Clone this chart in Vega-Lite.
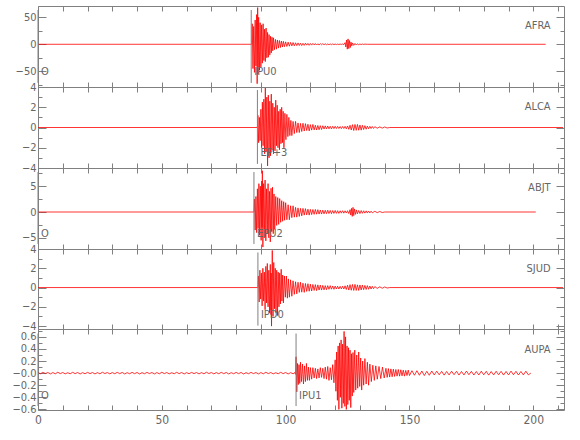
{
"$schema":"https://vega.github.io/schema/vega-lite/v6.json",
"autosize":{"type":"pad"},
"padding":{"left":11,"top":5,"right":0,"bottom":0},
"spacing":0,
"bounds":"flush",
"config":{
 "view":{"stroke":"#808080","strokeWidth":1},
 "axis":{"domain":false,"grid":false,"tickColor":"#808080","tickWidth":1,"labelColor":"#666666","labelFont":"Liberation Sans Narrow, DejaVu Sans Condensed, sans-serif","labelFontSize":11,"labelPadding":10,"labelOverlap":false,"labelBound":false,"labelFlush":false,"title":null},
 "text":{"font":"Liberation Sans Narrow, DejaVu Sans Condensed, sans-serif","fontSize":11,"color":"#666666","baseline":"middle"}
},
"datasets":{
"AFRA":[{"t":0,"v":0},{"t":86.2,"v":0},
{"t":86.3,"v":0},{"t":86.5,"v":38},{"t":86.8,"v":-45},{"t":87.1,"v":33},{"t":87.4,"v":-52},{"t":87.7,"v":45},{"t":88.0,"v":-40},{"t":88.3,"v":55},{"t":88.5,"v":-73},{"t":88.7,"v":68},{"t":88.9,"v":-55},{"t":89.1,"v":50},{"t":89.4,"v":-48},{"t":89.7,"v":40},{"t":90.0,"v":-42},{"t":90.3,"v":36},{"t":90.6,"v":-35},{"t":90.9,"v":38},{"t":91.2,"v":-30},{"t":91.5,"v":28},{"t":91.8,"v":-32},{"t":92.1,"v":30},{"t":92.4,"v":-25},{"t":92.7,"v":22},{"t":93.0,"v":-24},{"t":93.3,"v":18},{"t":93.6,"v":-20},{"t":93.9,"v":15},{"t":94.2,"v":-16},{"t":94.5,"v":13},{"t":94.8,"v":-12},{"t":95.1,"v":12},{"t":95.5,"v":-10},{"t":95.9,"v":9},{"t":96.3,"v":-9},{"t":96.7,"v":8},{"t":97.1,"v":-7},{"t":97.5,"v":7},{"t":97.9,"v":-6},{"t":98.3,"v":6},{"t":98.7,"v":-5},{"t":99.1,"v":5.5},{"t":99.5,"v":-4.5},{"t":100,"v":4.5},{"t":100.5,"v":-4},{"t":101,"v":4},{"t":101.5,"v":-3.5},{"t":102,"v":3.5},{"t":102.5,"v":-3},{"t":103,"v":3.2},{"t":103.5,"v":-2.8},{"t":104,"v":2.8},{"t":104.5,"v":-2.5},
{"t":105,"v":2.5},{"t":105.5,"v":-2.3},{"t":106,"v":2.0},{"t":106.5,"v":-2.4},{"t":107,"v":1.8},{"t":107.5,"v":-2.0},{"t":108,"v":2.1},{"t":108.5,"v":-1.6},{"t":109,"v":1.7},{"t":109.5,"v":-1.9},{"t":110,"v":1.4},{"t":110.5,"v":-1.5},{"t":111,"v":1.6},{"t":111.5,"v":-1.2},{"t":112,"v":1.3},{"t":112.5,"v":-1.4},{"t":113,"v":1.0},{"t":113.5,"v":-1.2},{"t":114,"v":1.1},{"t":114.5,"v":-0.9},{"t":115,"v":1.0},{"t":115.5,"v":-0.8},{"t":116,"v":0.9},{"t":116.5,"v":-0.8},{"t":117,"v":0.7},{"t":117.5,"v":-0.8},{"t":118,"v":0.6},{"t":118.5,"v":-0.7},{"t":119,"v":0.6},{"t":119.5,"v":-0.6},{"t":120,"v":0.5},{"t":120.5,"v":-0.6},{"t":121,"v":0.5},{"t":121.5,"v":-0.5},{"t":122,"v":0.5},{"t":122.5,"v":-0.4},{"t":123,"v":0.5},{"t":123.5,"v":-0.6},
{"t":124,"v":3},{"t":124.3,"v":-5},{"t":124.6,"v":8},{"t":124.9,"v":-9},{"t":125.2,"v":10},{"t":125.5,"v":-8},{"t":125.8,"v":7},{"t":126.1,"v":-6},{"t":126.4,"v":4},{"t":126.7,"v":-3},{"t":127,"v":2.5},{"t":127.5,"v":-2},{"t":128,"v":1.5},{"t":128.5,"v":-1.3},{"t":129,"v":1.0},{"t":129.5,"v":-0.9},{"t":130,"v":0.7},{"t":130.5,"v":-0.6},{"t":131,"v":0.5},{"t":131.5,"v":-0.4},{"t":132,"v":0.3},{"t":133,"v":0},{"t":205,"v":0}],
"ALCA":[{"t":0,"v":0},{"t":88.5,"v":0},
{"t":88.6,"v":0},{"t":88.8,"v":1.2},{"t":89.1,"v":-1.5},{"t":89.4,"v":1.0},{"t":89.7,"v":-1.3},{"t":90.0,"v":1.8},{"t":90.3,"v":-2.0},{"t":90.6,"v":2.5},{"t":90.9,"v":-1.8},{"t":91.2,"v":2.8},{"t":91.5,"v":-2.6},{"t":91.8,"v":3.9},{"t":92.1,"v":-2.4},{"t":92.4,"v":3.0},{"t":92.7,"v":-3.8},{"t":93.0,"v":3.2},{"t":93.3,"v":-3.0},{"t":93.6,"v":2.6},{"t":93.9,"v":-2.8},{"t":94.2,"v":3.3},{"t":94.5,"v":-2.2},{"t":94.8,"v":2.4},{"t":95.1,"v":-2.6},{"t":95.4,"v":2.0},{"t":95.7,"v":-2.3},{"t":96.0,"v":2.7},{"t":96.3,"v":-1.8},{"t":96.6,"v":2.2},{"t":96.9,"v":-2.0},{"t":97.2,"v":1.6},{"t":97.5,"v":-2.2},{"t":97.8,"v":1.8},{"t":98.1,"v":-1.6},{"t":98.4,"v":2.0},{"t":98.7,"v":-1.5},{"t":99.0,"v":1.6},{"t":99.3,"v":-2.0},{"t":99.7,"v":1.4},{"t":100.1,"v":-1.2},{"t":100.5,"v":1.3},{"t":100.9,"v":-0.9},{"t":101.3,"v":1.0},{"t":101.7,"v":-0.8},{"t":102.1,"v":0.7},{"t":102.5,"v":-0.8},
{"t":103.0,"v":0.6},{"t":103.5,"v":-0.6},{"t":104.0,"v":0.6},{"t":104.5,"v":-0.5},{"t":105.0,"v":0.45},{"t":105.5,"v":-0.5},{"t":106.0,"v":0.4},{"t":106.5,"v":-0.4},{"t":107.0,"v":0.42},{"t":107.5,"v":-0.35},{"t":108.0,"v":0.38},{"t":108.5,"v":-0.3},{"t":109.0,"v":0.32},{"t":109.5,"v":-0.34},{"t":110.0,"v":0.28},{"t":110.5,"v":-0.26},{"t":111.0,"v":0.3},{"t":111.5,"v":-0.24},{"t":112.0,"v":0.22},{"t":112.5,"v":-0.25},{"t":113.0,"v":0.2},{"t":113.5,"v":-0.22},{"t":114.0,"v":0.18},{"t":114.5,"v":-0.2},{"t":115.0,"v":0.17},{"t":115.5,"v":-0.15},{"t":116.0,"v":0.16},{"t":116.5,"v":-0.14},{"t":117.0,"v":0.15},{"t":117.5,"v":-0.13},{"t":118.0,"v":0.12},{"t":118.5,"v":-0.14},{"t":119.0,"v":0.12},{"t":119.5,"v":-0.11},{"t":120.0,"v":0.12},{"t":120.5,"v":-0.1},{"t":121.0,"v":0.11},{"t":121.5,"v":-0.1},{"t":122.0,"v":0.1},{"t":122.5,"v":-0.11},{"t":123.0,"v":0.1},{"t":123.5,"v":-0.1},{"t":124.0,"v":0.12},{"t":124.5,"v":-0.13},{"t":125.0,"v":0.15},{"t":125.5,"v":-0.18},{"t":126.0,"v":0.22},{"t":126.5,"v":-0.25},{"t":127.0,"v":0.28},{"t":127.5,"v":-0.3},{"t":128.0,"v":0.3},{"t":128.5,"v":-0.28},{"t":129.0,"v":0.3},{"t":129.5,"v":-0.27},{"t":130.0,"v":0.25},{"t":130.5,"v":-0.26},{"t":131.0,"v":0.22},{"t":131.5,"v":-0.2},{"t":132.0,"v":0.18},{"t":132.5,"v":-0.17},{"t":133.0,"v":0.14},{"t":133.5,"v":-0.13},{"t":134.0,"v":0.12},{"t":134.5,"v":-0.1},{"t":135,"v":0.1},{"t":135.5,"v":-0.09},{"t":136,"v":0.08},{"t":137,"v":-0.07},{"t":138,"v":0.06},{"t":139,"v":-0.06},{"t":140,"v":0.05},{"t":141,"v":-0.05},{"t":142,"v":0},{"t":212,"v":0}],
"ABJT":[{"t":0,"v":0},{"t":87.1,"v":0},
{"t":87.2,"v":0},{"t":87.4,"v":2.5},{"t":87.7,"v":-3.5},{"t":88.0,"v":3.0},{"t":88.3,"v":-4.0},{"t":88.6,"v":4.5},{"t":88.9,"v":-3.2},{"t":89.2,"v":5.5},{"t":89.5,"v":-4.5},{"t":89.8,"v":5.0},{"t":90.1,"v":-5.5},{"t":90.35,"v":6.0},{"t":90.45,"v":-3.0},{"t":90.6,"v":8.0},{"t":90.8,"v":-6.8},{"t":91.1,"v":5.5},{"t":91.4,"v":-5.0},{"t":91.7,"v":6.2},{"t":92.0,"v":-5.6},{"t":92.3,"v":4.5},{"t":92.6,"v":-4.2},{"t":92.9,"v":5.5},{"t":93.2,"v":-5.0},{"t":93.5,"v":4.0},{"t":93.8,"v":-5.8},{"t":94.1,"v":4.6},{"t":94.4,"v":-3.8},{"t":94.7,"v":4.8},{"t":95.0,"v":-4.2},{"t":95.3,"v":3.5},{"t":95.6,"v":-3.4},{"t":96.0,"v":3.0},{"t":96.4,"v":-2.6},{"t":96.8,"v":2.8},{"t":97.2,"v":-2.4},{"t":97.6,"v":2.6},{"t":98.0,"v":-2.0},{"t":98.4,"v":2.2},{"t":98.8,"v":-1.8},{"t":99.2,"v":2.0},{"t":99.6,"v":-1.6},{"t":100.0,"v":1.8},{"t":100.5,"v":-1.5},{"t":101.0,"v":1.4},{"t":101.5,"v":-1.5},{"t":102.0,"v":1.2},{"t":102.5,"v":-1.1},{"t":103.0,"v":1.2},{"t":103.5,"v":-1.0},
{"t":104.0,"v":0.9},{"t":104.5,"v":-1.0},{"t":105.0,"v":0.8},{"t":105.5,"v":-0.85},{"t":106.0,"v":0.7},{"t":106.5,"v":-0.75},{"t":107.0,"v":0.7},{"t":107.5,"v":-0.6},{"t":108.0,"v":0.65},{"t":108.5,"v":-0.55},{"t":109.0,"v":0.55},{"t":109.5,"v":-0.6},{"t":110.0,"v":0.5},{"t":110.5,"v":-0.5},{"t":111.0,"v":0.48},{"t":111.5,"v":-0.45},{"t":112.0,"v":0.5},{"t":112.5,"v":-0.42},{"t":113.0,"v":0.45},{"t":113.5,"v":-0.4},{"t":114.0,"v":0.38},{"t":114.5,"v":-0.4},{"t":115.0,"v":0.36},{"t":115.5,"v":-0.35},{"t":116.0,"v":0.34},{"t":116.5,"v":-0.32},{"t":117.0,"v":0.35},{"t":117.5,"v":-0.3},{"t":118.0,"v":0.3},{"t":118.5,"v":-0.32},{"t":119.0,"v":0.28},{"t":119.5,"v":-0.27},{"t":120.0,"v":0.3},{"t":120.5,"v":-0.26},{"t":121.0,"v":0.25},{"t":121.5,"v":-0.27},{"t":122.0,"v":0.24},{"t":122.5,"v":-0.22},{"t":123.0,"v":0.25},{"t":123.5,"v":-0.22},{"t":124.0,"v":0.23},{"t":124.5,"v":-0.2},{"t":125.0,"v":0.25},{"t":125.5,"v":-0.3},{"t":126.0,"v":0.45},{"t":126.3,"v":-0.6},{"t":126.6,"v":0.7},{"t":126.9,"v":-0.85},{"t":127.2,"v":0.9},{"t":127.5,"v":-0.7},{"t":127.8,"v":0.6},{"t":128.2,"v":-0.45},{"t":128.6,"v":0.4},{"t":129.0,"v":-0.35},{"t":129.5,"v":0.3},{"t":130.0,"v":-0.3},{"t":130.5,"v":0.28},{"t":131.0,"v":-0.25},{"t":131.5,"v":0.24},{"t":132.0,"v":-0.22},{"t":132.5,"v":0.22},{"t":133.0,"v":-0.2},{"t":133.5,"v":0.18},{"t":134.0,"v":-0.18},{"t":134.5,"v":0.16},{"t":135.0,"v":-0.15},{"t":136,"v":0.13},{"t":137,"v":-0.12},{"t":138,"v":0.1},{"t":139,"v":-0.1},{"t":140,"v":0},{"t":201,"v":0}],
"SJUD":[{"t":0,"v":0},{"t":88.7,"v":0},
{"t":88.8,"v":0},{"t":89.0,"v":1.2},{"t":89.3,"v":-1.5},{"t":89.6,"v":1.8},{"t":89.9,"v":-1.2},{"t":90.2,"v":1.5},{"t":90.5,"v":-1.9},{"t":90.8,"v":2.0},{"t":91.1,"v":-1.4},{"t":91.4,"v":1.6},{"t":91.7,"v":-2.3},{"t":92.0,"v":2.2},{"t":92.3,"v":-1.6},{"t":92.6,"v":2.5},{"t":92.9,"v":-2.0},{"t":93.2,"v":1.8},{"t":93.5,"v":-2.6},{"t":93.8,"v":2.4},{"t":94.0,"v":-2.8},{"t":94.15,"v":1.5},{"t":94.3,"v":-4.0},{"t":94.6,"v":3.85},{"t":94.9,"v":-3.0},{"t":95.2,"v":2.6},{"t":95.5,"v":-2.2},{"t":95.8,"v":2.0},{"t":96.1,"v":-2.6},{"t":96.4,"v":1.8},{"t":96.7,"v":-2.9},{"t":97.0,"v":1.6},{"t":97.3,"v":-2.0},{"t":97.6,"v":1.5},{"t":97.9,"v":-1.7},{"t":98.2,"v":1.9},{"t":98.5,"v":-1.4},{"t":98.8,"v":1.3},{"t":99.1,"v":-1.6},{"t":99.5,"v":1.2},{"t":99.9,"v":-1.0},{"t":100.3,"v":1.2},{"t":100.7,"v":-1.1},{"t":101.1,"v":0.9},{"t":101.5,"v":-1.0},{"t":102,"v":0.8},{"t":102.5,"v":-0.9},{"t":103,"v":0.7},{"t":103.5,"v":-0.7},
{"t":104,"v":0.6},{"t":104.5,"v":-0.65},{"t":105,"v":0.55},{"t":105.5,"v":-0.5},{"t":106,"v":0.55},{"t":106.5,"v":-0.48},{"t":107,"v":0.45},{"t":107.5,"v":-0.5},{"t":108,"v":0.42},{"t":108.5,"v":-0.4},{"t":109,"v":0.4},{"t":109.5,"v":-0.38},{"t":110,"v":0.35},{"t":110.5,"v":-0.36},{"t":111,"v":0.32},{"t":111.5,"v":-0.3},{"t":112,"v":0.3},{"t":112.5,"v":-0.32},{"t":113,"v":0.28},{"t":113.5,"v":-0.26},{"t":114,"v":0.25},{"t":114.5,"v":-0.26},{"t":115,"v":0.22},{"t":115.5,"v":-0.24},{"t":116,"v":0.2},{"t":116.5,"v":-0.22},{"t":117,"v":0.2},{"t":117.5,"v":-0.18},{"t":118,"v":0.2},{"t":118.5,"v":-0.17},{"t":119,"v":0.16},{"t":119.5,"v":-0.18},{"t":120,"v":0.15},{"t":120.5,"v":-0.15},{"t":121,"v":0.14},{"t":121.5,"v":-0.15},{"t":122,"v":0.13},{"t":122.5,"v":-0.14},{"t":123,"v":0.14},{"t":123.5,"v":-0.15},{"t":124,"v":0.18},{"t":124.5,"v":-0.2},{"t":125,"v":0.24},{"t":125.5,"v":-0.26},{"t":126,"v":0.3},{"t":126.5,"v":-0.28},{"t":127,"v":0.32},{"t":127.5,"v":-0.3},{"t":128,"v":0.33},{"t":128.5,"v":-0.3},{"t":129,"v":0.28},{"t":129.5,"v":-0.3},{"t":130,"v":0.27},{"t":130.5,"v":-0.25},{"t":131,"v":0.26},{"t":131.5,"v":-0.22},{"t":132,"v":0.22},{"t":132.5,"v":-0.2},{"t":133,"v":0.2},{"t":133.5,"v":-0.18},{"t":134,"v":0.16},{"t":134.5,"v":-0.15},{"t":135,"v":0.13},{"t":135.5,"v":-0.12},{"t":136,"v":0.1},{"t":137,"v":-0.09},{"t":138,"v":0.08},{"t":139,"v":-0.07},{"t":140,"v":0.06},{"t":141,"v":-0.05},{"t":142,"v":0},{"t":212,"v":0}],
"AUPA":[{"t":0,"v":0.008},{"t":1,"v":-0.01},{"t":2,"v":0.012},{"t":3,"v":-0.007},{"t":4,"v":0.01},{"t":5,"v":-0.013},{"t":6,"v":0.009},{"t":7,"v":-0.011},{"t":8,"v":0.014},{"t":9,"v":-0.008},{"t":10,"v":0.01},{"t":11,"v":-0.012},{"t":12,"v":0.007},{"t":13,"v":-0.01},{"t":14,"v":0.013},{"t":15,"v":-0.009},{"t":16,"v":0.011},{"t":17,"v":-0.014},{"t":18,"v":0.008},{"t":19,"v":-0.01},{"t":20,"v":0.012},{"t":21,"v":-0.008},{"t":22,"v":0.01},{"t":23,"v":-0.013},{"t":24,"v":0.009},{"t":25,"v":-0.011},{"t":26,"v":0.014},{"t":27,"v":-0.007},{"t":28,"v":0.01},{"t":29,"v":-0.012},{"t":30,"v":0.009},{"t":31,"v":-0.01},{"t":32,"v":0.013},{"t":33,"v":-0.009},{"t":34,"v":0.011},{"t":35,"v":-0.013},{"t":36,"v":0.008},{"t":37,"v":-0.01},{"t":38,"v":0.012},{"t":39,"v":-0.009},{"t":40,"v":0.011},{"t":41,"v":-0.014},{"t":42,"v":0.008},{"t":43,"v":-0.01},{"t":44,"v":0.012},{"t":45,"v":-0.008},{"t":46,"v":0.01},{"t":47,"v":-0.013},{"t":48,"v":0.009},{"t":49,"v":-0.011},{"t":50,"v":0.014},{"t":51,"v":-0.008},{"t":52,"v":0.01},{"t":53,"v":-0.012},{"t":54,"v":0.007},{"t":55,"v":-0.01},{"t":56,"v":0.013},{"t":57,"v":-0.009},{"t":58,"v":0.011},{"t":59,"v":-0.014},{"t":60,"v":0.008},{"t":61,"v":-0.01},{"t":62,"v":0.012},{"t":63,"v":-0.008},{"t":64,"v":0.01},{"t":65,"v":-0.013},{"t":66,"v":0.009},{"t":67,"v":-0.011},{"t":68,"v":0.014},{"t":69,"v":-0.007},{"t":70,"v":0.01},{"t":71,"v":-0.012},{"t":72,"v":0.009},{"t":73,"v":-0.01},{"t":74,"v":0.013},{"t":75,"v":-0.009},{"t":76,"v":0.011},{"t":77,"v":-0.013},{"t":78,"v":0.008},{"t":79,"v":-0.01},{"t":80,"v":0.012},{"t":81,"v":-0.009},{"t":82,"v":0.011},{"t":83,"v":-0.014},{"t":84,"v":0.008},{"t":85,"v":-0.01},{"t":86,"v":0.012},{"t":87,"v":-0.008},{"t":88,"v":0.01},{"t":89,"v":-0.013},{"t":90,"v":0.009},{"t":91,"v":-0.011},{"t":92,"v":0.014},{"t":93,"v":-0.008},{"t":94,"v":0.01},{"t":95,"v":-0.012},{"t":96,"v":0.007},{"t":97,"v":-0.01},{"t":98,"v":0.013},{"t":99,"v":-0.009},{"t":100,"v":0.011},{"t":101,"v":-0.014},{"t":102,"v":0.008},{"t":103,"v":-0.01},{"t":103.8,"v":0.01},
{"t":104.0,"v":-0.02},{"t":104.2,"v":0.27},{"t":104.5,"v":-0.31},{"t":104.8,"v":0.16},{"t":105.1,"v":-0.19},{"t":105.4,"v":0.14},{"t":105.7,"v":-0.17},{"t":106.0,"v":0.18},{"t":106.4,"v":-0.14},{"t":106.8,"v":0.15},{"t":107.2,"v":-0.18},{"t":107.6,"v":0.12},{"t":108.0,"v":-0.14},{"t":108.4,"v":0.16},{"t":108.8,"v":-0.12},{"t":109.2,"v":0.1},{"t":109.6,"v":-0.12},{"t":110.0,"v":0.09},{"t":110.5,"v":-0.1},{"t":111.0,"v":0.09},{"t":111.5,"v":-0.08},{"t":112.0,"v":0.08},{"t":112.5,"v":-0.09},{"t":113.0,"v":0.07},{"t":113.5,"v":-0.08},{"t":114.0,"v":0.09},{"t":114.5,"v":-0.07},{"t":115.0,"v":0.08},{"t":115.5,"v":-0.09},{"t":116.0,"v":0.1},{"t":116.5,"v":-0.1},{"t":117.0,"v":0.11},{"t":117.5,"v":-0.12},{"t":118.0,"v":0.09},{"t":118.5,"v":-0.11},{"t":119.0,"v":0.14},{"t":119.5,"v":-0.16},{"t":120.0,"v":0.22},{"t":120.3,"v":-0.3},{"t":120.6,"v":0.35},{"t":120.9,"v":-0.45},{"t":121.2,"v":0.45},{"t":121.5,"v":-0.6},{"t":121.8,"v":0.5},{"t":122.1,"v":-0.4},{"t":122.4,"v":0.55},{"t":122.7,"v":-0.58},{"t":123.0,"v":0.48},{"t":123.3,"v":-0.5},{"t":123.6,"v":0.69},{"t":123.9,"v":-0.55},{"t":124.2,"v":0.6},{"t":124.5,"v":-0.6},{"t":124.8,"v":0.45},{"t":125.1,"v":-0.52},{"t":125.4,"v":0.42},{"t":125.7,"v":-0.45},{"t":126.0,"v":0.38},{"t":126.3,"v":-0.57},{"t":126.6,"v":0.32},{"t":126.9,"v":-0.38},{"t":127.2,"v":0.34},{"t":127.5,"v":-0.32},{"t":127.9,"v":0.38},{"t":128.3,"v":-0.28},{"t":128.7,"v":0.3},{"t":129.1,"v":-0.25},{"t":129.5,"v":0.35},{"t":129.9,"v":-0.22},{"t":130.3,"v":0.25},{"t":130.7,"v":-0.28},{"t":131.1,"v":0.2},{"t":131.5,"v":-0.2},{"t":132.0,"v":0.24},{"t":132.5,"v":-0.18},{"t":133.0,"v":0.18},{"t":133.5,"v":-0.2},{"t":134.0,"v":0.15},{"t":134.6,"v":-0.14},{"t":135.2,"v":0.13},{"t":135.8,"v":-0.12},{"t":136.4,"v":0.12},{"t":137.0,"v":-0.1},{"t":137.7,"v":0.11},{"t":138.4,"v":-0.09},{"t":139.1,"v":0.1},{"t":139.8,"v":-0.08},
{"t":140.5,"v":0.08},{"t":141,"v":-0.07},{"t":141.5,"v":0.075},{"t":142,"v":-0.065},{"t":142.5,"v":0.07},{"t":143,"v":-0.06},{"t":143.5,"v":0.065},{"t":144,"v":-0.055},{"t":144.5,"v":0.06},{"t":145,"v":-0.05},{"t":145.5,"v":0.06},{"t":146,"v":-0.05},{"t":146.5,"v":0.055},{"t":147,"v":-0.045},{"t":147.5,"v":0.05},{"t":148,"v":-0.05},{"t":148.5,"v":0.045},{"t":149,"v":-0.04},{"t":149.5,"v":0.05},{"t":150,"v":-0.04},
{"t":151,"v":0.04},{"t":152,"v":-0.035},{"t":153,"v":0.04},{"t":154,"v":-0.035},{"t":155,"v":0.035},{"t":156,"v":-0.04},{"t":157,"v":0.03},{"t":158,"v":-0.035},{"t":159,"v":0.035},{"t":160,"v":-0.03},{"t":161,"v":0.032},{"t":162,"v":-0.028},{"t":163,"v":0.03},{"t":164,"v":-0.033},{"t":165,"v":0.027},{"t":166,"v":-0.03},{"t":167,"v":0.032},{"t":168,"v":-0.026},{"t":169,"v":0.03},{"t":170,"v":-0.032},{"t":171,"v":0.028},{"t":172,"v":-0.03},{"t":173,"v":0.033},{"t":174,"v":-0.027},{"t":175,"v":0.03},{"t":176,"v":-0.031},{"t":177,"v":0.027},{"t":178,"v":-0.03},{"t":179,"v":0.032},{"t":180,"v":-0.028},{"t":181,"v":0.03},{"t":182,"v":-0.033},{"t":183,"v":0.027},{"t":184,"v":-0.03},{"t":185,"v":0.031},{"t":186,"v":-0.027},{"t":187,"v":0.03},{"t":188,"v":-0.032},{"t":189,"v":0.028},{"t":190,"v":-0.03},{"t":191,"v":0.033},{"t":192,"v":-0.027},{"t":193,"v":0.03},{"t":194,"v":-0.031},{"t":195,"v":0.027},{"t":196,"v":-0.03},{"t":197,"v":0.032},{"t":198,"v":-0.028},{"t":199,"v":0}]
},
"vconcat":[
{"width":526,"height":81,
 "layer":[
  {"data":{"name":"AFRA"},"mark":{"type":"line","color":"#ff0000","strokeWidth":0.8},
   "encoding":{"x":{"field":"t","type":"quantitative","scale":{"domain":[0,212.4],"nice":false,"zero":false},"axis":{"orient":"bottom","values":[0,10,20,30,40,50,60,70,80,90,100,110,120,130,140,150,160,170,180,190,200,210],"labels":false,"tickSize":-5}},
    "y":{"field":"v","type":"quantitative","scale":{"domain":[-79.1,70.9],"nice":false,"zero":false},"axis":{"orient":"left","values":[-75,-50,-25,0,25,50],"labelExpr":"datum.value % 50 === 0 ? datum.label : ''","tickSize":{"condition":{"test":"datum.value % 50 === 0","value":-8},"value":-4}}}}},
  {"data":{"values":[{"t":0,"ph":"O"},{"t":86.1,"ph":"IPU0"}]},"mark":{"type":"rule","color":"#808080"},
   "encoding":{"x":{"field":"t","type":"quantitative","scale":{"domain":[0,212.4],"nice":false,"zero":false},"axis":{"orient":"top","values":[0,10,20,30,40,50,60,70,80,90,100,110,120,130,140,150,160,170,180,190,200,210],"labels":false,"tickSize":-5}},
    "y":{"datum":63.5,"type":"quantitative","scale":{"domain":[-79.1,70.9],"nice":false,"zero":false},"axis":{"orient":"right","values":[-75,-50,-25,0,25,50],"labels":false,"tickSize":{"condition":{"test":"datum.value % 50 === 0","value":-8},"value":-4}}},
    "y2":{"datum":-71.6}}},
  {"data":{"values":[{"t":0,"ph":"O"},{"t":86.1,"ph":"IPU0"}]},"mark":{"type":"text","align":"left","dx":3},
   "encoding":{"x":{"field":"t","type":"quantitative","scale":{"domain":[0,212.4],"nice":false,"zero":false},"axis":null},
    "y":{"datum":-50.7,"type":"quantitative","scale":{"domain":[-79.1,70.9],"nice":false,"zero":false},"axis":null},"text":{"field":"ph"}}},
  {"data":{"values":[{"name":"AFRA"}]},"mark":{"type":"text","align":"right"},
   "encoding":{"x":{"datum":207,"type":"quantitative","scale":{"domain":[0,212.4],"nice":false,"zero":false},"axis":null},
    "y":{"datum":33.9,"type":"quantitative","scale":{"domain":[-79.1,70.9],"nice":false,"zero":false},"axis":null},"text":{"field":"name"}}}
 ],
 "resolve":{"axis":{"x":"independent","y":"independent"}}},
{"width":526,"height":81,
 "layer":[
  {"data":{"name":"ALCA"},"mark":{"type":"line","color":"#ff0000","strokeWidth":0.8},
   "encoding":{"x":{"field":"t","type":"quantitative","scale":{"domain":[0,212.4],"nice":false,"zero":false},"axis":{"orient":"bottom","values":[0,10,20,30,40,50,60,70,80,90,100,110,120,130,140,150,160,170,180,190,200,210],"labels":false,"tickSize":-5}},
    "y":{"field":"v","type":"quantitative","scale":{"domain":[-4,4],"nice":false,"zero":false},"axis":{"orient":"left","values":[-4,-3,-2,-1,0,1,2,3,4],"labelExpr":"datum.value % 2 === 0 ? datum.label : ''","tickSize":{"condition":{"test":"datum.value % 2 === 0","value":-8},"value":-4}}}}},
  {"data":{"values":[{"t":88.6,"ph":"EP+3"}]},"mark":{"type":"rule","color":"#808080"},
   "encoding":{"x":{"field":"t","type":"quantitative","scale":{"domain":[0,212.4],"nice":false,"zero":false},"axis":{"orient":"top","values":[0,10,20,30,40,50,60,70,80,90,100,110,120,130,140,150,160,170,180,190,200,210],"labels":false,"tickSize":-5}},
    "y":{"datum":3.7,"type":"quantitative","scale":{"domain":[-4,4],"nice":false,"zero":false},"axis":{"orient":"right","values":[-4,-3,-2,-1,0,1,2,3,4],"labels":false,"tickSize":{"condition":{"test":"datum.value % 2 === 0","value":-8},"value":-4}}},
    "y2":{"datum":-3.6}}},
  {"data":{"values":[{"t":88.6,"ph":"EP+3"}]},"mark":{"type":"text","align":"left","dx":3},
   "encoding":{"x":{"field":"t","type":"quantitative","scale":{"domain":[0,212.4],"nice":false,"zero":false},"axis":null},
    "y":{"datum":-2.5,"type":"quantitative","scale":{"domain":[-4,4],"nice":false,"zero":false},"axis":null},"text":{"field":"ph"}}},
  {"data":{"values":[{"name":"ALCA"}]},"mark":{"type":"text","align":"right"},
   "encoding":{"x":{"datum":207,"type":"quantitative","scale":{"domain":[0,212.4],"nice":false,"zero":false},"axis":null},
    "y":{"datum":2.0,"type":"quantitative","scale":{"domain":[-4,4],"nice":false,"zero":false},"axis":null},"text":{"field":"name"}}}
 ],
 "resolve":{"axis":{"x":"independent","y":"independent"}}},
{"width":526,"height":81,
 "layer":[
  {"data":{"name":"ABJT"},"mark":{"type":"line","color":"#ff0000","strokeWidth":0.8},
   "encoding":{"x":{"field":"t","type":"quantitative","scale":{"domain":[0,212.4],"nice":false,"zero":false},"axis":{"orient":"bottom","values":[0,10,20,30,40,50,60,70,80,90,100,110,120,130,140,150,160,170,180,190,200,210],"labels":false,"tickSize":-5}},
    "y":{"field":"v","type":"quantitative","scale":{"domain":[-7.17,8.53],"nice":false,"zero":false},"axis":{"orient":"left","values":[-5,-2.5,0,2.5,5,7.5],"labelExpr":"datum.value % 5 === 0 ? datum.label : ''","tickSize":{"condition":{"test":"datum.value % 5 === 0","value":-8},"value":-4}}}}},
  {"data":{"values":[{"t":0,"ph":"O"},{"t":87.2,"ph":"EPU2"}]},"mark":{"type":"rule","color":"#808080"},
   "encoding":{"x":{"field":"t","type":"quantitative","scale":{"domain":[0,212.4],"nice":false,"zero":false},"axis":{"orient":"top","values":[0,10,20,30,40,50,60,70,80,90,100,110,120,130,140,150,160,170,180,190,200,210],"labels":false,"tickSize":-5}},
    "y":{"datum":7.75,"type":"quantitative","scale":{"domain":[-7.17,8.53],"nice":false,"zero":false},"axis":{"orient":"right","values":[-5,-2.5,0,2.5,5,7.5],"labels":false,"tickSize":{"condition":{"test":"datum.value % 5 === 0","value":-8},"value":-4}}},
    "y2":{"datum":-6.2}}},
  {"data":{"values":[{"t":0,"ph":"O"},{"t":87.2,"ph":"EPU2"}]},"mark":{"type":"text","align":"left","dx":3},
   "encoding":{"x":{"field":"t","type":"quantitative","scale":{"domain":[0,212.4],"nice":false,"zero":false},"axis":null},
    "y":{"datum":-4.26,"type":"quantitative","scale":{"domain":[-7.17,8.53],"nice":false,"zero":false},"axis":null},"text":{"field":"ph"}}},
  {"data":{"values":[{"name":"ABJT"}]},"mark":{"type":"text","align":"right"},
   "encoding":{"x":{"datum":207,"type":"quantitative","scale":{"domain":[0,212.4],"nice":false,"zero":false},"axis":null},
    "y":{"datum":4.7,"type":"quantitative","scale":{"domain":[-7.17,8.53],"nice":false,"zero":false},"axis":null},"text":{"field":"name"}}}
 ],
 "resolve":{"axis":{"x":"independent","y":"independent"}}},
{"width":526,"height":80,
 "layer":[
  {"data":{"name":"SJUD"},"mark":{"type":"line","color":"#ff0000","strokeWidth":0.8},
   "encoding":{"x":{"field":"t","type":"quantitative","scale":{"domain":[0,212.4],"nice":false,"zero":false},"axis":{"orient":"bottom","values":[0,10,20,30,40,50,60,70,80,90,100,110,120,130,140,150,160,170,180,190,200,210],"labels":false,"tickSize":-5}},
    "y":{"field":"v","type":"quantitative","scale":{"domain":[-4.3,4],"nice":false,"zero":false},"axis":{"orient":"left","values":[-4,-3,-2,-1,0,1,2,3,4],"labelExpr":"datum.value % 2 === 0 ? datum.label : ''","tickSize":{"condition":{"test":"datum.value % 2 === 0","value":-8},"value":-4}}}}},
  {"data":{"values":[{"t":88.8,"ph":"IPD0"}]},"mark":{"type":"rule","color":"#808080"},
   "encoding":{"x":{"field":"t","type":"quantitative","scale":{"domain":[0,212.4],"nice":false,"zero":false},"axis":{"orient":"top","values":[0,10,20,30,40,50,60,70,80,90,100,110,120,130,140,150,160,170,180,190,200,210],"labels":false,"tickSize":-5}},
    "y":{"datum":3.64,"type":"quantitative","scale":{"domain":[-4.3,4],"nice":false,"zero":false},"axis":{"orient":"right","values":[-4,-3,-2,-1,0,1,2,3,4],"labels":false,"tickSize":{"condition":{"test":"datum.value % 2 === 0","value":-8},"value":-4}}},
    "y2":{"datum":-3.95}}},
  {"data":{"values":[{"t":88.8,"ph":"IPD0"}]},"mark":{"type":"text","align":"left","dx":3},
   "encoding":{"x":{"field":"t","type":"quantitative","scale":{"domain":[0,212.4],"nice":false,"zero":false},"axis":null},
    "y":{"datum":-2.8,"type":"quantitative","scale":{"domain":[-4.3,4],"nice":false,"zero":false},"axis":null},"text":{"field":"ph"}}},
  {"data":{"values":[{"name":"SJUD"}]},"mark":{"type":"text","align":"right"},
   "encoding":{"x":{"datum":207,"type":"quantitative","scale":{"domain":[0,212.4],"nice":false,"zero":false},"axis":null},
    "y":{"datum":1.94,"type":"quantitative","scale":{"domain":[-4.3,4],"nice":false,"zero":false},"axis":null},"text":{"field":"name"}}}
 ],
 "resolve":{"axis":{"x":"independent","y":"independent"}}},
{"width":526,"height":81,
 "layer":[
  {"data":{"name":"AUPA"},"mark":{"type":"line","color":"#ff0000","strokeWidth":0.8},
   "encoding":{"x":{"field":"t","type":"quantitative","scale":{"domain":[0,212.4],"nice":false,"zero":false},"axis":{"orient":"bottom","values":[0,10,20,30,40,50,60,70,80,90,100,110,120,130,140,150,160,170,180,190,200,210],"labelExpr":"datum.value % 50 === 0 ? datum.label : ''","labelFontSize":12,"labelPadding":9,"tickSize":-5}},
    "y":{"field":"v","type":"quantitative","scale":{"domain":[-0.61,0.73],"nice":false,"zero":false},"axis":{"orient":"left","values":[-0.6,-0.5,-0.4,-0.3,-0.2,-0.1,0,0.1,0.2,0.3,0.4,0.5,0.6,0.7],"labelExpr":"abs(round(datum.value*10)) % 2 === 0 && datum.value < 0.65 ? (datum.value === 0 ? '−0.0' : format(datum.value, '.1f')) : ''","tickSize":{"condition":{"test":"abs(round(datum.value*10)) % 2 === 0","value":-8},"value":-4}}}}},
  {"data":{"values":[{"t":0,"ph":"O"},{"t":104.2,"ph":"IPU1"}]},"mark":{"type":"rule","color":"#808080"},
   "encoding":{"x":{"field":"t","type":"quantitative","scale":{"domain":[0,212.4],"nice":false,"zero":false},"axis":{"orient":"top","values":[0,10,20,30,40,50,60,70,80,90,100,110,120,130,140,150,160,170,180,190,200,210],"labels":false,"tickSize":-5}},
    "y":{"datum":0.655,"type":"quantitative","scale":{"domain":[-0.61,0.73],"nice":false,"zero":false},"axis":{"orient":"right","values":[-0.6,-0.5,-0.4,-0.3,-0.2,-0.1,0,0.1,0.2,0.3,0.4,0.5,0.6,0.7],"labels":false,"tickSize":{"condition":{"test":"abs(round(datum.value*10)) % 2 === 0","value":-8},"value":-4}}},
    "y2":{"datum":-0.545}}},
  {"data":{"values":[{"t":0,"ph":"O"},{"t":104.2,"ph":"IPU1"}]},"mark":{"type":"text","align":"left","dx":3},
   "encoding":{"x":{"field":"t","type":"quantitative","scale":{"domain":[0,212.4],"nice":false,"zero":false},"axis":null},
    "y":{"datum":-0.38,"type":"quantitative","scale":{"domain":[-0.61,0.73],"nice":false,"zero":false},"axis":null},"text":{"field":"ph"}}},
  {"data":{"values":[{"name":"AUPA"}]},"mark":{"type":"text","align":"right"},
   "encoding":{"x":{"datum":207,"type":"quantitative","scale":{"domain":[0,212.4],"nice":false,"zero":false},"axis":null},
    "y":{"datum":0.38,"type":"quantitative","scale":{"domain":[-0.61,0.73],"nice":false,"zero":false},"axis":null},"text":{"field":"name"}}}
 ],
 "resolve":{"axis":{"x":"independent","y":"independent"}}}
]
}
